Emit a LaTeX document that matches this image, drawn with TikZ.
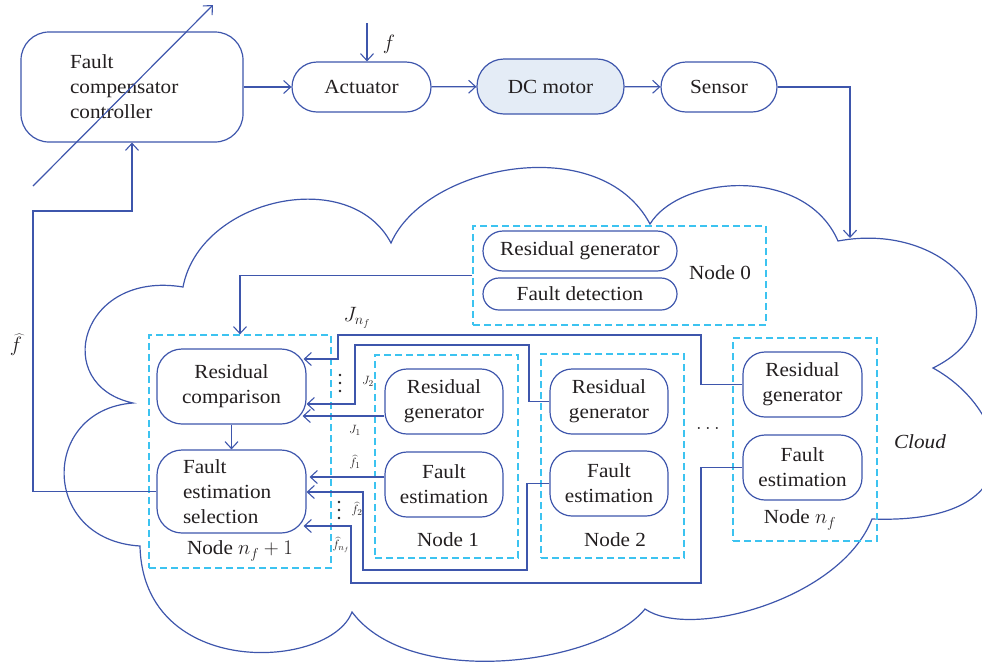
\documentclass[tikz,border=0pt]{standalone}
\usepackage{fontspec}
\setmainfont{Liberation Serif}[FakeStretch=1.06]
\usetikzlibrary{arrows.meta,calc}
\definecolor{lb}{RGB}{62,86,172}
\definecolor{dcy}{RGB}{60,195,240}
\definecolor{fillb}{RGB}{228,236,246}
\definecolor{txt}{RGB}{35,31,32}
\begin{document}
\begin{tikzpicture}[x=1pt,y=-1pt,
  every node/.style={text=txt, font=\fontsize{20}{25}\selectfont},
  ln/.style={draw=lb, line width=1.2pt},
  arr/.style={ln, -{Straight Barb[length=7pt,width=13pt,line width=1.1pt]}},
  pill/.style={ln, align=center, inner sep=0pt},
  dbox/.style={draw=dcy, line width=1.3pt, dash pattern=on 7pt off 4pt, inner sep=0pt},
  small/.style={font=\fontsize{13}{15}\selectfont, inner sep=0.5pt},
  dot/.style={fill=txt, draw=none}
]
\useasboundingbox (0,0) rectangle (982,665);

% cloud
\draw[ln] (183,287) .. controls (200,198) and (350,165) .. (391,243)
 .. controls (425,165) and (600,130) .. (650,224)
 .. controls (680,175) and (805,165) .. (838,241)
 .. controls (950,220) and (1030,320) .. (933,368)
 .. controls (1010,410) and (1040,525) .. (872,519)
 .. controls (840,600) and (690,640) .. (645,609)
 .. controls (600,665) and (410,690) .. (352,612)
 .. controls (330,670) and (143,680) .. (140,546)
 .. controls (40,540) and (40,410) .. (133,403)
 .. controls (50,385) and (80,270) .. (183,287) -- cycle;

% top row
\node[pill, minimum width=222pt, minimum height=110pt, rounded corners=28pt,
      text width=124pt, inner xsep=49pt, align=left] (ctrl) at (132,87)
      {Fault\\compensator\\controller};
\node[pill, minimum width=139pt, minimum height=50pt, rounded corners=25pt] (act) at (361.5,87) {Actuator};
\node[pill, fill=fillb, minimum width=147pt, minimum height=55pt, rounded corners=27pt] (dc) at (550.5,86.5) {DC motor};
\node[pill, minimum width=116pt, minimum height=50pt, rounded corners=25pt] (sen) at (719,87) {Sensor};

% node 0
\node[dbox, minimum width=293pt, minimum height=99pt] (n0) at (619.5,275.5) {};
\node[pill, minimum width=194pt, minimum height=40pt, rounded corners=20pt] (rg0) at (580,251) {Residual generator};
\node[pill, minimum width=194pt, minimum height=32pt, rounded corners=16pt] (fd0) at (580,294) {Fault detection};
\node (l0) at (720,273) {Node 0};

% node nf+1
\node[dbox, minimum width=182pt, minimum height=233pt] (nf1) at (240,451.5) {};
\node[pill, minimum width=149pt, minimum height=75pt, rounded corners=25pt] (rc) at (231.5,386.5) {Residual\\comparison};
\node[pill, minimum width=149pt, minimum height=83pt, rounded corners=25pt,
      text width=97pt, inner xsep=26pt, align=left] (fes) at (231.5,491.5) {Fault\\estimation\\selection};
\node (lnf1) at (240,551) {Node $n_f + 1$};

% node 1
\node[dbox, minimum width=143pt, minimum height=203pt] (n1) at (446.5,456.5) {};
\node[pill, minimum width=118pt, minimum height=65pt, rounded corners=22pt] (rg1) at (444,401.5) {Residual\\generator};
\node[pill, minimum width=118pt, minimum height=65pt, rounded corners=22pt] (fe1) at (444,484.5) {Fault\\estimation};
\node (l1) at (448,540) {Node 1};

% node 2
\node[dbox, minimum width=143pt, minimum height=204pt] (n2) at (612.5,456) {};
\node[pill, minimum width=118pt, minimum height=65pt, rounded corners=22pt] (rg2) at (609,401.5) {Residual\\generator};
\node[pill, minimum width=118pt, minimum height=65pt, rounded corners=22pt] (fe2) at (609,483.5) {Fault\\estimation};
\node (l2) at (615,540) {Node 2};

% node nf
\node[dbox, minimum width=144pt, minimum height=203pt] (nnf) at (805,439.5) {};
\node[pill, minimum width=119pt, minimum height=65pt, rounded corners=22pt] (rgn) at (802.5,384.5) {Residual\\generator};
\node[pill, minimum width=119pt, minimum height=65pt, rounded corners=22pt] (fen) at (802.5,467.5) {Fault\\estimation};
\node (lnf) at (800,520) {Node $n_f$};

\node (cloudlbl) at (920,442) {\itshape Cloud};
\node (dots) at (708,428) {$\dots$};

% top connectors
\draw[arr] (ctrl.east) -- (act.west);
\draw[arr] (act) -- (dc);
\draw[arr] (dc) -- (sen);
\coordinate (cin) at (850,238);
\draw[arr] (sen.east) -| (cin);
\coordinate (ftop) at (367,23);
\draw[arr] (ftop) -- (ftop |- act.north);
\node (flbl) at (389,44) {$f$};
\coordinate (d1) at (33,186);
\coordinate (d2) at (213,5);
\draw[arr] (d1) -- (d2);

% feedback
\draw[arr] (fes.west) -- (33,491.5) -- (33,211) -| (ctrl.south);
\node[font=\fontsize{22}{26}\selectfont] (fhat) at (16,345) {$\widehat{f}$};

% node0 -> nf+1
\draw[arr] (n0.west) -| (nf1.north);
\draw[arr] (rc) -- (fes);

% J connectors
\draw[arr, shorten >=-3pt] (rgn.west) -| (701,335) -| (338,359) -- (rc.east |- 0,359);
\draw[arr] (rg2.west) -| (529,345) -| (355,404) -- (rc.east |- 0,404);
\draw[arr, shorten >=-4pt] ([yshift=-14.5pt]rg1.west) -- (rc.east |- 0,416);
\node[font=\fontsize{20}{24}\selectfont] (jnf) at (357,318) {$J_{n_f}$};
\node[small] (j2) at (368,381) {$J_2$};
\node[small] (j1) at (355,430) {$J_1$};
\foreach \yy in {375,383,391} \fill[txt] (340,\yy) circle (1.4pt);

% f connectors
\draw[arr, shorten >=3pt] ([yshift=7.5pt]fe1.west) -- (fes.east |- 0,477);
\draw[arr] (fe2.west) -| (527,570) -| (363,492) -- (fes.east |- 0,492);
\draw[arr, shorten >=-3pt] (fen.west) -| (701,583) -| (351,526) -- (fes.east |- 0,526);
\node[small] (f1) at (355,462) {$\widehat{f}_1$};
\node[small] (f2) at (357,509) {$\widehat{f}_2$};
\node[small] (fn) at (341,545) {$\widehat{f}_{n_f}$};
\foreach \yy in {502,510,518} \fill[txt] (339,\yy) circle (1.4pt);
\end{tikzpicture}
\end{document}
